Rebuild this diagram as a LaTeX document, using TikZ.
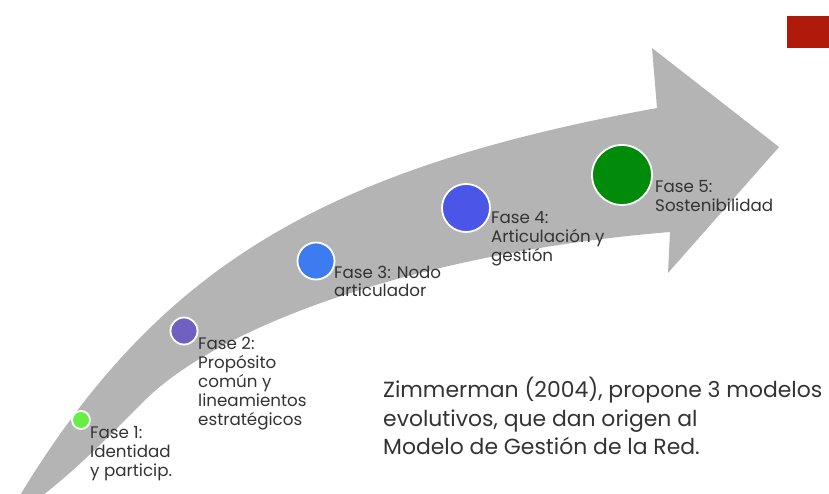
\documentclass[tikz,border=0pt]{standalone}
\usepackage{fontspec}
\setmainfont{Poppins}
\definecolor{arrowgray}{HTML}{B4B4B4}
\definecolor{txt}{HTML}{333333}
\definecolor{redbox}{HTML}{B01A0A}
\definecolor{cA}{HTML}{66EE44}
\definecolor{cB}{HTML}{7060C0}
\definecolor{cC}{HTML}{3C7CF0}
\definecolor{cD}{HTML}{4B55E8}
\definecolor{cE}{HTML}{008C0A}
\tikzset{
  phase/.style={circle, draw=white, line width=1.8pt, inner sep=0pt},
  lbl/.style={anchor=north west, inner sep=0pt, align=left, text=txt,
              font=\fontsize{16.7}{18.8}\selectfont},
  note/.style={anchor=north west, inner sep=0pt, align=left, text=txt,
              font=\fontsize{21.9}{28.5}\selectfont}
}
\begin{document}
\begin{tikzpicture}[x=1pt,y=-1pt]
\useasboundingbox (0,0) rectangle (829,494);
\clip (0,0) rectangle (829,494);
% red square
\fill[redbox] (787,16) rectangle (829,48);
% arrow
\fill[arrowgray]
  (10,512) .. controls (152,270) and (317,170) .. (657,108)
  -- (652,48) -- (779,147) -- (668,273) -- (670,232)
  .. controls (437,251) and (226,319) .. (143,402)
  .. controls (113,432) and (75,472) .. (30,505)
  -- cycle;
% phases
\node[phase, fill=cA, minimum size=18pt] (p1) at (81,420) {};
\node[phase, fill=cB, minimum size=27pt] (p2) at (184,331) {};
\node[phase, fill=cC, minimum size=37pt] (p3) at (316,261) {};
\node[phase, fill=cD, minimum size=48pt] (p4) at (466,208) {};
\node[phase, fill=cE, minimum size=60pt] (p5) at (622,175) {};
\node[lbl] (t1) at (90,426.5) {Fase 1:\\Identidad\\y particip.};
\node[lbl] (t2) at (198,337.5) {Fase 2:\\Propósito\\común y\\lineamientos\\estratégicos};
\node[lbl] (t3) at (334,265.5) {Fase 3: Nodo\\articulador};
\node[lbl] (t4) at (491,211.5) {Fase 4:\\Articulación y\\gestión};
\node[lbl] (t5) at (655,180.5) {Fase 5:\\Sostenibilidad};
\node[note] (n) at (383,377) {Zimmerman (2004), propone 3 modelos\\evolutivos, que dan origen al\\Modelo de Gestión de la Red.};
\end{tikzpicture}
\end{document}
